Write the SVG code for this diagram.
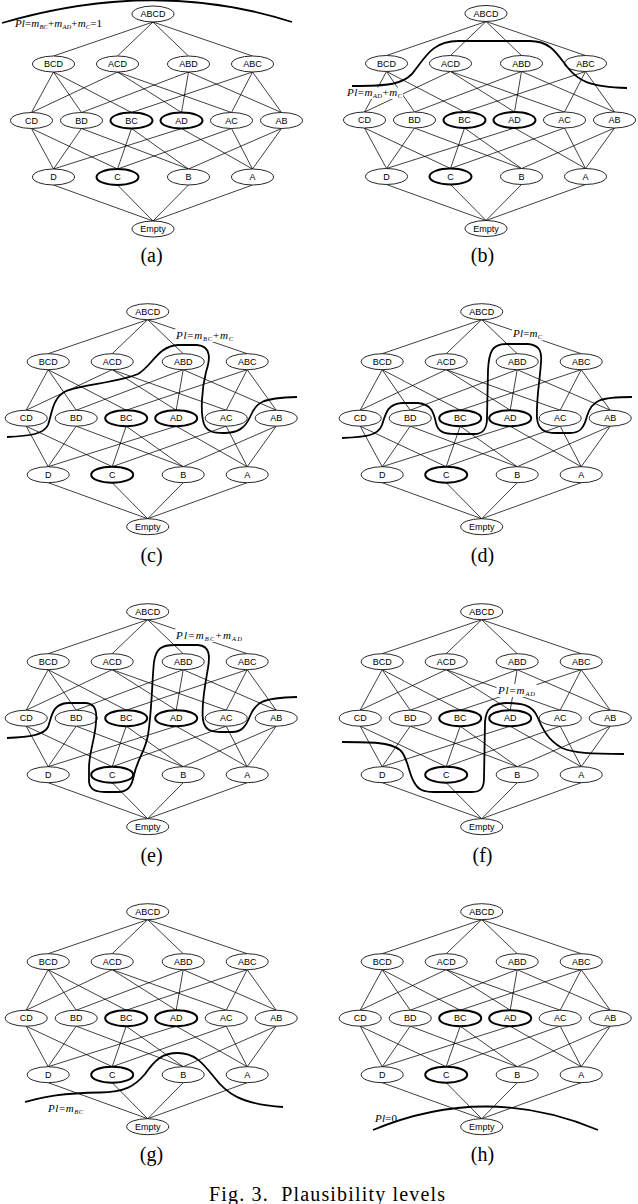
<svg xmlns="http://www.w3.org/2000/svg" xmlns:xlink="http://www.w3.org/1999/xlink" width="638" height="1204" viewBox="0 0 638 1204">
<style>
.node ellipse{fill:#fff;stroke:#000;stroke-width:0.85}
.node.hl ellipse{stroke-width:2}
.node text{font-family:"Liberation Sans",Arial,sans-serif;font-size:9px;text-anchor:middle;fill:#000}
.edges line{stroke:#000;stroke-width:0.75}
.cut{fill:none;stroke:#000;stroke-width:1.8}
.lbl{font-family:"Liberation Serif","Times New Roman",serif;font-size:11px;fill:#000}
.it{font-style:italic}
.sub{font-style:italic;font-size:6.5px}
.bg{fill:#fff}
.cap{font-family:"Liberation Serif","Times New Roman",serif;font-size:20px;text-anchor:middle;fill:#000}
</style>
<defs>
<g id="edges-tpl" class="edges">
<line x1="0" y1="8" x2="-99.5" y2="42"/><line x1="0" y1="8" x2="-35.5" y2="42"/><line x1="0" y1="8" x2="35.5" y2="42"/><line x1="0" y1="8" x2="99.5" y2="42"/>
<line x1="-99.5" y1="58" x2="-121.5" y2="98.5"/><line x1="-99.5" y1="58" x2="-71.5" y2="98.5"/><line x1="-99.5" y1="58" x2="-21.5" y2="98.5"/>
<line x1="-35.5" y1="58" x2="-121.5" y2="98.5"/><line x1="-35.5" y1="58" x2="28.5" y2="98.5"/><line x1="-35.5" y1="58" x2="78.5" y2="98.5"/>
<line x1="35.5" y1="58" x2="-71.5" y2="98.5"/><line x1="35.5" y1="58" x2="28.5" y2="98.5"/><line x1="35.5" y1="58" x2="128.5" y2="98.5"/>
<line x1="99.5" y1="58" x2="-21.5" y2="98.5"/><line x1="99.5" y1="58" x2="78.5" y2="98.5"/><line x1="99.5" y1="58" x2="128.5" y2="98.5"/>
<line x1="-121.5" y1="114.5" x2="-99.5" y2="155"/><line x1="-121.5" y1="114.5" x2="-35.5" y2="155"/>
<line x1="-71.5" y1="114.5" x2="-99.5" y2="155"/><line x1="-71.5" y1="114.5" x2="35.5" y2="155"/>
<line x1="-21.5" y1="114.5" x2="-35.5" y2="155"/><line x1="-21.5" y1="114.5" x2="35.5" y2="155"/>
<line x1="28.5" y1="114.5" x2="-99.5" y2="155"/><line x1="28.5" y1="114.5" x2="99.5" y2="155"/>
<line x1="78.5" y1="114.5" x2="-35.5" y2="155"/><line x1="78.5" y1="114.5" x2="99.5" y2="155"/>
<line x1="128.5" y1="114.5" x2="35.5" y2="155"/><line x1="128.5" y1="114.5" x2="99.5" y2="155"/>
<line x1="-99.5" y1="171" x2="0" y2="207"/><line x1="-35.5" y1="171" x2="0" y2="207"/><line x1="35.5" y1="171" x2="0" y2="207"/><line x1="99.5" y1="171" x2="0" y2="207"/>
</g>
</defs>
<rect width="638" height="1204" fill="#fff"/>

<!-- Panel (a) -->
<g id="panel-a" transform="translate(153,14)">
<g id="a-connectors"><use xlink:href="#edges-tpl" href="#edges-tpl"/></g>
<g id="a-ABCD" class="node"><ellipse rx="21" ry="8"/><text y="3.2">ABCD</text></g>
<g id="a-BCD" class="node" transform="translate(-99.5,50)"><ellipse rx="21" ry="8"/><text y="3.2">BCD</text></g>
<g id="a-ACD" class="node" transform="translate(-35.5,50)"><ellipse rx="21" ry="8"/><text y="3.2">ACD</text></g>
<g id="a-ABD" class="node" transform="translate(35.5,50)"><ellipse rx="21" ry="8"/><text y="3.2">ABD</text></g>
<g id="a-ABC" class="node" transform="translate(99.5,50)"><ellipse rx="21" ry="8"/><text y="3.2">ABC</text></g>
<g id="a-CD" class="node" transform="translate(-121.5,106.5)"><ellipse rx="21" ry="8"/><text y="3.2">CD</text></g>
<g id="a-BD" class="node" transform="translate(-71.5,106.5)"><ellipse rx="21" ry="8"/><text y="3.2">BD</text></g>
<g id="a-BC" class="node hl" transform="translate(-21.5,106.5)"><ellipse rx="21" ry="8"/><text y="3.2">BC</text></g>
<g id="a-AD" class="node hl" transform="translate(28.5,106.5)"><ellipse rx="21" ry="8"/><text y="3.2">AD</text></g>
<g id="a-AC" class="node" transform="translate(78.5,106.5)"><ellipse rx="21" ry="8"/><text y="3.2">AC</text></g>
<g id="a-AB" class="node" transform="translate(128.5,106.5)"><ellipse rx="21" ry="8"/><text y="3.2">AB</text></g>
<g id="a-D" class="node" transform="translate(-99.5,163)"><ellipse rx="21" ry="8"/><text y="3.2">D</text></g>
<g id="a-C" class="node hl" transform="translate(-35.5,163)"><ellipse rx="21" ry="8"/><text y="3.2">C</text></g>
<g id="a-B" class="node" transform="translate(35.5,163)"><ellipse rx="21" ry="8"/><text y="3.2">B</text></g>
<g id="a-A" class="node" transform="translate(99.5,163)"><ellipse rx="21" ry="8"/><text y="3.2">A</text></g>
<g id="a-Empty" class="node" transform="translate(0,215)"><ellipse rx="21" ry="8"/><text y="3.2">Empty</text></g>
</g>
<g id="a-level">
<text class="lbl" x="15" y="26.5" textLength="87" lengthAdjust="spacing"><tspan class="it">Pl</tspan><tspan>=</tspan><tspan class="it">m</tspan><tspan class="sub" dy="2">BC</tspan><tspan dy="-2">+</tspan><tspan class="it">m</tspan><tspan class="sub" dy="2">AD</tspan><tspan dy="-2">+</tspan><tspan class="it">m</tspan><tspan class="sub" dy="2">C</tspan><tspan dy="-2">=</tspan><tspan>1</tspan></text>
<path class="cut" d="M2,23 Q155,-22 292,22"/>
</g>
<text class="cap" x="151.5" y="262">(a)</text>

<!-- Panel (b) -->
<g id="panel-b" transform="translate(486,13.5)">
<g id="b-connectors"><use xlink:href="#edges-tpl" href="#edges-tpl"/></g>
<g id="b-ABCD" class="node"><ellipse rx="21" ry="8"/><text y="3.2">ABCD</text></g>
<g id="b-BCD" class="node" transform="translate(-99.5,50)"><ellipse rx="21" ry="8"/><text y="3.2">BCD</text></g>
<g id="b-ACD" class="node" transform="translate(-35.5,50)"><ellipse rx="21" ry="8"/><text y="3.2">ACD</text></g>
<g id="b-ABD" class="node" transform="translate(35.5,50)"><ellipse rx="21" ry="8"/><text y="3.2">ABD</text></g>
<g id="b-ABC" class="node" transform="translate(99.5,50)"><ellipse rx="21" ry="8"/><text y="3.2">ABC</text></g>
<g id="b-CD" class="node" transform="translate(-121.5,106.5)"><ellipse rx="21" ry="8"/><text y="3.2">CD</text></g>
<g id="b-BD" class="node" transform="translate(-71.5,106.5)"><ellipse rx="21" ry="8"/><text y="3.2">BD</text></g>
<g id="b-BC" class="node hl" transform="translate(-21.5,106.5)"><ellipse rx="21" ry="8"/><text y="3.2">BC</text></g>
<g id="b-AD" class="node hl" transform="translate(28.5,106.5)"><ellipse rx="21" ry="8"/><text y="3.2">AD</text></g>
<g id="b-AC" class="node" transform="translate(78.5,106.5)"><ellipse rx="21" ry="8"/><text y="3.2">AC</text></g>
<g id="b-AB" class="node" transform="translate(128.5,106.5)"><ellipse rx="21" ry="8"/><text y="3.2">AB</text></g>
<g id="b-D" class="node" transform="translate(-99.5,163)"><ellipse rx="21" ry="8"/><text y="3.2">D</text></g>
<g id="b-C" class="node hl" transform="translate(-35.5,163)"><ellipse rx="21" ry="8"/><text y="3.2">C</text></g>
<g id="b-B" class="node" transform="translate(35.5,163)"><ellipse rx="21" ry="8"/><text y="3.2">B</text></g>
<g id="b-A" class="node" transform="translate(99.5,163)"><ellipse rx="21" ry="8"/><text y="3.2">A</text></g>
<g id="b-Empty" class="node" transform="translate(0,215)"><ellipse rx="21" ry="8"/><text y="3.2">Empty</text></g>
</g>
<g id="b-level">
<rect class="bg" x="346" y="87.5" width="57" height="11.5"/>
<text class="lbl" x="347" y="96" textLength="55" lengthAdjust="spacing"><tspan class="it">Pl</tspan><tspan>=</tspan><tspan class="it">m</tspan><tspan class="sub" dy="2">AD</tspan><tspan dy="-2">+</tspan><tspan class="it">m</tspan><tspan class="sub" dy="2">C</tspan></text>
<path class="cut" d="M352,86 C390,86 402,84 412,74 C425,58 432,41 458,41 L530,41 C552,41 558,56 568,68 C578,80 588,87 627,88"/>
</g>
<text class="cap" x="482.5" y="262">(b)</text>

<!-- Panel (c) -->
<g id="panel-c" transform="translate(147.7,311.7)">
<g id="c-connectors"><use xlink:href="#edges-tpl" href="#edges-tpl"/></g>
<g id="c-ABCD" class="node"><ellipse rx="21" ry="8"/><text y="3.2">ABCD</text></g>
<g id="c-BCD" class="node" transform="translate(-99.5,50)"><ellipse rx="21" ry="8"/><text y="3.2">BCD</text></g>
<g id="c-ACD" class="node" transform="translate(-35.5,50)"><ellipse rx="21" ry="8"/><text y="3.2">ACD</text></g>
<g id="c-ABD" class="node" transform="translate(35.5,50)"><ellipse rx="21" ry="8"/><text y="3.2">ABD</text></g>
<g id="c-ABC" class="node" transform="translate(99.5,50)"><ellipse rx="21" ry="8"/><text y="3.2">ABC</text></g>
<g id="c-CD" class="node" transform="translate(-121.5,106.5)"><ellipse rx="21" ry="8"/><text y="3.2">CD</text></g>
<g id="c-BD" class="node" transform="translate(-71.5,106.5)"><ellipse rx="21" ry="8"/><text y="3.2">BD</text></g>
<g id="c-BC" class="node hl" transform="translate(-21.5,106.5)"><ellipse rx="21" ry="8"/><text y="3.2">BC</text></g>
<g id="c-AD" class="node hl" transform="translate(28.5,106.5)"><ellipse rx="21" ry="8"/><text y="3.2">AD</text></g>
<g id="c-AC" class="node" transform="translate(78.5,106.5)"><ellipse rx="21" ry="8"/><text y="3.2">AC</text></g>
<g id="c-AB" class="node" transform="translate(128.5,106.5)"><ellipse rx="21" ry="8"/><text y="3.2">AB</text></g>
<g id="c-D" class="node" transform="translate(-99.5,163)"><ellipse rx="21" ry="8"/><text y="3.2">D</text></g>
<g id="c-C" class="node hl" transform="translate(-35.5,163)"><ellipse rx="21" ry="8"/><text y="3.2">C</text></g>
<g id="c-B" class="node" transform="translate(35.5,163)"><ellipse rx="21" ry="8"/><text y="3.2">B</text></g>
<g id="c-A" class="node" transform="translate(99.5,163)"><ellipse rx="21" ry="8"/><text y="3.2">A</text></g>
<g id="c-Empty" class="node" transform="translate(0,215)"><ellipse rx="21" ry="8"/><text y="3.2">Empty</text></g>
</g>
<g id="c-level">
<rect class="bg" x="175" y="329" width="60" height="13"/>
<text class="lbl" x="176" y="338.5" textLength="57" lengthAdjust="spacing"><tspan class="it">Pl</tspan><tspan>=</tspan><tspan class="it">m</tspan><tspan class="sub" dy="2">BC</tspan><tspan dy="-2">+</tspan><tspan class="it">m</tspan><tspan class="sub" dy="2">C</tspan></text>
<path class="cut" d="M7,437 C30,436 44,434 48,425 C52,414 52,398 66,391 C80,385 120,382 138,374 C152,366 158,346 178,345 L197,345 C212,346 210,360 206,372 C202,388 200,412 204,424 C207,432 214,433 224,433 C238,433 245,428 250,417 C256,402 262,398 297,397"/>
</g>
<text class="cap" x="151.5" y="562">(c)</text>

<!-- Panel (d) -->
<g id="panel-d" transform="translate(481.7,311.7)">
<g id="d-connectors"><use xlink:href="#edges-tpl" href="#edges-tpl"/></g>
<g id="d-ABCD" class="node"><ellipse rx="21" ry="8"/><text y="3.2">ABCD</text></g>
<g id="d-BCD" class="node" transform="translate(-99.5,50)"><ellipse rx="21" ry="8"/><text y="3.2">BCD</text></g>
<g id="d-ACD" class="node" transform="translate(-35.5,50)"><ellipse rx="21" ry="8"/><text y="3.2">ACD</text></g>
<g id="d-ABD" class="node" transform="translate(35.5,50)"><ellipse rx="21" ry="8"/><text y="3.2">ABD</text></g>
<g id="d-ABC" class="node" transform="translate(99.5,50)"><ellipse rx="21" ry="8"/><text y="3.2">ABC</text></g>
<g id="d-CD" class="node" transform="translate(-121.5,106.5)"><ellipse rx="21" ry="8"/><text y="3.2">CD</text></g>
<g id="d-BD" class="node" transform="translate(-71.5,106.5)"><ellipse rx="21" ry="8"/><text y="3.2">BD</text></g>
<g id="d-BC" class="node hl" transform="translate(-21.5,106.5)"><ellipse rx="21" ry="8"/><text y="3.2">BC</text></g>
<g id="d-AD" class="node hl" transform="translate(28.5,106.5)"><ellipse rx="21" ry="8"/><text y="3.2">AD</text></g>
<g id="d-AC" class="node" transform="translate(78.5,106.5)"><ellipse rx="21" ry="8"/><text y="3.2">AC</text></g>
<g id="d-AB" class="node" transform="translate(128.5,106.5)"><ellipse rx="21" ry="8"/><text y="3.2">AB</text></g>
<g id="d-D" class="node" transform="translate(-99.5,163)"><ellipse rx="21" ry="8"/><text y="3.2">D</text></g>
<g id="d-C" class="node hl" transform="translate(-35.5,163)"><ellipse rx="21" ry="8"/><text y="3.2">C</text></g>
<g id="d-B" class="node" transform="translate(35.5,163)"><ellipse rx="21" ry="8"/><text y="3.2">B</text></g>
<g id="d-A" class="node" transform="translate(99.5,163)"><ellipse rx="21" ry="8"/><text y="3.2">A</text></g>
<g id="d-Empty" class="node" transform="translate(0,215)"><ellipse rx="21" ry="8"/><text y="3.2">Empty</text></g>
</g>
<g id="d-level">
<rect class="bg" x="512" y="327.5" width="31" height="13"/>
<text class="lbl" x="513" y="337" textLength="29" lengthAdjust="spacing"><tspan class="it">Pl</tspan><tspan>=</tspan><tspan class="it">m</tspan><tspan class="sub" dy="2">C</tspan></text>
<path class="cut" d="M342,438 C365,437 378,436 382,425 C386,412 388,404 402,403 L418,403 C432,404 434,414 436,423 C438,432 444,434 456,434 L474,434 C484,434 487,428 487,418 L488,370 C489,352 492,344 506,344 L528,344 C540,345 542,352 541,362 C540,380 536,400 537,418 C538,430 545,433 556,433 L570,433 C580,433 584,428 587,416 C592,400 600,397 632,397"/>
</g>
<text class="cap" x="482.5" y="562">(d)</text>

<!-- Panel (e) -->
<g id="panel-e" transform="translate(147.7,611.7)">
<g id="e-connectors"><use xlink:href="#edges-tpl" href="#edges-tpl"/></g>
<g id="e-ABCD" class="node"><ellipse rx="21" ry="8"/><text y="3.2">ABCD</text></g>
<g id="e-BCD" class="node" transform="translate(-99.5,50)"><ellipse rx="21" ry="8"/><text y="3.2">BCD</text></g>
<g id="e-ACD" class="node" transform="translate(-35.5,50)"><ellipse rx="21" ry="8"/><text y="3.2">ACD</text></g>
<g id="e-ABD" class="node" transform="translate(35.5,50)"><ellipse rx="21" ry="8"/><text y="3.2">ABD</text></g>
<g id="e-ABC" class="node" transform="translate(99.5,50)"><ellipse rx="21" ry="8"/><text y="3.2">ABC</text></g>
<g id="e-CD" class="node" transform="translate(-121.5,106.5)"><ellipse rx="21" ry="8"/><text y="3.2">CD</text></g>
<g id="e-BD" class="node" transform="translate(-71.5,106.5)"><ellipse rx="21" ry="8"/><text y="3.2">BD</text></g>
<g id="e-BC" class="node hl" transform="translate(-21.5,106.5)"><ellipse rx="21" ry="8"/><text y="3.2">BC</text></g>
<g id="e-AD" class="node hl" transform="translate(28.5,106.5)"><ellipse rx="21" ry="8"/><text y="3.2">AD</text></g>
<g id="e-AC" class="node" transform="translate(78.5,106.5)"><ellipse rx="21" ry="8"/><text y="3.2">AC</text></g>
<g id="e-AB" class="node" transform="translate(128.5,106.5)"><ellipse rx="21" ry="8"/><text y="3.2">AB</text></g>
<g id="e-D" class="node" transform="translate(-99.5,163)"><ellipse rx="21" ry="8"/><text y="3.2">D</text></g>
<g id="e-C" class="node hl" transform="translate(-35.5,163)"><ellipse rx="21" ry="8"/><text y="3.2">C</text></g>
<g id="e-B" class="node" transform="translate(35.5,163)"><ellipse rx="21" ry="8"/><text y="3.2">B</text></g>
<g id="e-A" class="node" transform="translate(99.5,163)"><ellipse rx="21" ry="8"/><text y="3.2">A</text></g>
<g id="e-Empty" class="node" transform="translate(0,215)"><ellipse rx="21" ry="8"/><text y="3.2">Empty</text></g>
</g>
<g id="e-level">
<rect class="bg" x="175" y="629" width="69" height="13"/>
<text class="lbl" x="176" y="638.5" textLength="66" lengthAdjust="spacing"><tspan class="it">Pl</tspan><tspan>=</tspan><tspan class="it">m</tspan><tspan class="sub" dy="2">BC</tspan><tspan dy="-2">+</tspan><tspan class="it">m</tspan><tspan class="sub" dy="2">AD</tspan></text>
<path class="cut" d="M7,738 C30,737 44,735 48,727 C52,716 52,704 68,703 L86,703 C96,704 97,712 96,722 C95,740 89,752 89,768 L89,782 C90,790 96,792 106,792 L118,792 C128,792 132,786 134,775 C137,760 145,752 148,735 C152,710 152,680 154,662 C156,648 162,645 175,645 L198,645 C210,646 210,656 208,668 C205,685 201,705 203,720 C205,730 210,732 222,732 L232,732 C242,732 246,726 250,716 C256,702 262,698 297,697"/>
</g>
<text class="cap" x="151.5" y="861.5">(e)</text>

<!-- Panel (f) -->
<g id="panel-f" transform="translate(481.7,611.7)">
<g id="f-connectors"><use xlink:href="#edges-tpl" href="#edges-tpl"/></g>
<g id="f-ABCD" class="node"><ellipse rx="21" ry="8"/><text y="3.2">ABCD</text></g>
<g id="f-BCD" class="node" transform="translate(-99.5,50)"><ellipse rx="21" ry="8"/><text y="3.2">BCD</text></g>
<g id="f-ACD" class="node" transform="translate(-35.5,50)"><ellipse rx="21" ry="8"/><text y="3.2">ACD</text></g>
<g id="f-ABD" class="node" transform="translate(35.5,50)"><ellipse rx="21" ry="8"/><text y="3.2">ABD</text></g>
<g id="f-ABC" class="node" transform="translate(99.5,50)"><ellipse rx="21" ry="8"/><text y="3.2">ABC</text></g>
<g id="f-CD" class="node" transform="translate(-121.5,106.5)"><ellipse rx="21" ry="8"/><text y="3.2">CD</text></g>
<g id="f-BD" class="node" transform="translate(-71.5,106.5)"><ellipse rx="21" ry="8"/><text y="3.2">BD</text></g>
<g id="f-BC" class="node hl" transform="translate(-21.5,106.5)"><ellipse rx="21" ry="8"/><text y="3.2">BC</text></g>
<g id="f-AD" class="node hl" transform="translate(28.5,106.5)"><ellipse rx="21" ry="8"/><text y="3.2">AD</text></g>
<g id="f-AC" class="node" transform="translate(78.5,106.5)"><ellipse rx="21" ry="8"/><text y="3.2">AC</text></g>
<g id="f-AB" class="node" transform="translate(128.5,106.5)"><ellipse rx="21" ry="8"/><text y="3.2">AB</text></g>
<g id="f-D" class="node" transform="translate(-99.5,163)"><ellipse rx="21" ry="8"/><text y="3.2">D</text></g>
<g id="f-C" class="node hl" transform="translate(-35.5,163)"><ellipse rx="21" ry="8"/><text y="3.2">C</text></g>
<g id="f-B" class="node" transform="translate(35.5,163)"><ellipse rx="21" ry="8"/><text y="3.2">B</text></g>
<g id="f-A" class="node" transform="translate(99.5,163)"><ellipse rx="21" ry="8"/><text y="3.2">A</text></g>
<g id="f-Empty" class="node" transform="translate(0,215)"><ellipse rx="21" ry="8"/><text y="3.2">Empty</text></g>
</g>
<g id="f-level">
<rect class="bg" x="496.5" y="684" width="40" height="13"/>
<text class="lbl" x="498" y="693.5" textLength="37" lengthAdjust="spacing"><tspan class="it">Pl</tspan><tspan>=</tspan><tspan class="it">m</tspan><tspan class="sub" dy="2">AD</tspan></text>
<path class="cut" d="M342,742 C370,742 390,742 400,750 C408,757 408,772 414,782 C418,790 424,792 434,792 L472,792 C481,792 484,788 484,778 L485,722 C486,708 492,704 506,703 C522,703 532,705 537,716 C543,730 548,740 562,748 C574,753 590,754 624,754"/>
</g>
<text class="cap" x="482.5" y="861.5">(f)</text>

<!-- Panel (g) -->
<g id="panel-g" transform="translate(147.7,911.7)">
<g id="g-connectors"><use xlink:href="#edges-tpl" href="#edges-tpl"/></g>
<g id="g-ABCD" class="node"><ellipse rx="21" ry="8"/><text y="3.2">ABCD</text></g>
<g id="g-BCD" class="node" transform="translate(-99.5,50)"><ellipse rx="21" ry="8"/><text y="3.2">BCD</text></g>
<g id="g-ACD" class="node" transform="translate(-35.5,50)"><ellipse rx="21" ry="8"/><text y="3.2">ACD</text></g>
<g id="g-ABD" class="node" transform="translate(35.5,50)"><ellipse rx="21" ry="8"/><text y="3.2">ABD</text></g>
<g id="g-ABC" class="node" transform="translate(99.5,50)"><ellipse rx="21" ry="8"/><text y="3.2">ABC</text></g>
<g id="g-CD" class="node" transform="translate(-121.5,106.5)"><ellipse rx="21" ry="8"/><text y="3.2">CD</text></g>
<g id="g-BD" class="node" transform="translate(-71.5,106.5)"><ellipse rx="21" ry="8"/><text y="3.2">BD</text></g>
<g id="g-BC" class="node hl" transform="translate(-21.5,106.5)"><ellipse rx="21" ry="8"/><text y="3.2">BC</text></g>
<g id="g-AD" class="node hl" transform="translate(28.5,106.5)"><ellipse rx="21" ry="8"/><text y="3.2">AD</text></g>
<g id="g-AC" class="node" transform="translate(78.5,106.5)"><ellipse rx="21" ry="8"/><text y="3.2">AC</text></g>
<g id="g-AB" class="node" transform="translate(128.5,106.5)"><ellipse rx="21" ry="8"/><text y="3.2">AB</text></g>
<g id="g-D" class="node" transform="translate(-99.5,163)"><ellipse rx="21" ry="8"/><text y="3.2">D</text></g>
<g id="g-C" class="node hl" transform="translate(-35.5,163)"><ellipse rx="21" ry="8"/><text y="3.2">C</text></g>
<g id="g-B" class="node" transform="translate(35.5,163)"><ellipse rx="21" ry="8"/><text y="3.2">B</text></g>
<g id="g-A" class="node" transform="translate(99.5,163)"><ellipse rx="21" ry="8"/><text y="3.2">A</text></g>
<g id="g-Empty" class="node" transform="translate(0,215)"><ellipse rx="21" ry="8"/><text y="3.2">Empty</text></g>
</g>
<g id="g-level">
<text class="lbl" x="48" y="1112" textLength="35" lengthAdjust="spacing"><tspan class="it">Pl</tspan><tspan>=</tspan><tspan class="it">m</tspan><tspan class="sub" dy="2">BC</tspan></text>
<path class="cut" d="M25,1102 C45,1097 60,1093 100,1092.5 C125,1092 135,1086 145,1074 C155,1060 162,1053 178,1053 C194,1053 202,1062 214,1077 C226,1093 240,1104 283,1107"/>
</g>
<text class="cap" x="151.5" y="1161">(g)</text>

<!-- Panel (h) -->
<g id="panel-h" transform="translate(481.7,911.7)">
<g id="h-connectors"><use xlink:href="#edges-tpl" href="#edges-tpl"/></g>
<g id="h-ABCD" class="node"><ellipse rx="21" ry="8"/><text y="3.2">ABCD</text></g>
<g id="h-BCD" class="node" transform="translate(-99.5,50)"><ellipse rx="21" ry="8"/><text y="3.2">BCD</text></g>
<g id="h-ACD" class="node" transform="translate(-35.5,50)"><ellipse rx="21" ry="8"/><text y="3.2">ACD</text></g>
<g id="h-ABD" class="node" transform="translate(35.5,50)"><ellipse rx="21" ry="8"/><text y="3.2">ABD</text></g>
<g id="h-ABC" class="node" transform="translate(99.5,50)"><ellipse rx="21" ry="8"/><text y="3.2">ABC</text></g>
<g id="h-CD" class="node" transform="translate(-121.5,106.5)"><ellipse rx="21" ry="8"/><text y="3.2">CD</text></g>
<g id="h-BD" class="node" transform="translate(-71.5,106.5)"><ellipse rx="21" ry="8"/><text y="3.2">BD</text></g>
<g id="h-BC" class="node hl" transform="translate(-21.5,106.5)"><ellipse rx="21" ry="8"/><text y="3.2">BC</text></g>
<g id="h-AD" class="node hl" transform="translate(28.5,106.5)"><ellipse rx="21" ry="8"/><text y="3.2">AD</text></g>
<g id="h-AC" class="node" transform="translate(78.5,106.5)"><ellipse rx="21" ry="8"/><text y="3.2">AC</text></g>
<g id="h-AB" class="node" transform="translate(128.5,106.5)"><ellipse rx="21" ry="8"/><text y="3.2">AB</text></g>
<g id="h-D" class="node" transform="translate(-99.5,163)"><ellipse rx="21" ry="8"/><text y="3.2">D</text></g>
<g id="h-C" class="node hl" transform="translate(-35.5,163)"><ellipse rx="21" ry="8"/><text y="3.2">C</text></g>
<g id="h-B" class="node" transform="translate(35.5,163)"><ellipse rx="21" ry="8"/><text y="3.2">B</text></g>
<g id="h-A" class="node" transform="translate(99.5,163)"><ellipse rx="21" ry="8"/><text y="3.2">A</text></g>
<g id="h-Empty" class="node" transform="translate(0,215)"><ellipse rx="21" ry="8"/><text y="3.2">Empty</text></g>
</g>
<g id="h-level">
<text class="lbl" x="375" y="1122" textLength="22" lengthAdjust="spacing"><tspan class="it">Pl</tspan><tspan>=</tspan><tspan>0</tspan></text>
<path class="cut" d="M373,1130 Q486,1083 598,1130"/>
</g>
<text class="cap" x="482.5" y="1161">(h)</text>

<text id="fig-caption" x="209" y="1201" font-family="'Liberation Serif','Times New Roman',serif" font-size="20" textLength="236" lengthAdjust="spacing">Fig. 3.&#160; Plausibility levels</text>
</svg>
